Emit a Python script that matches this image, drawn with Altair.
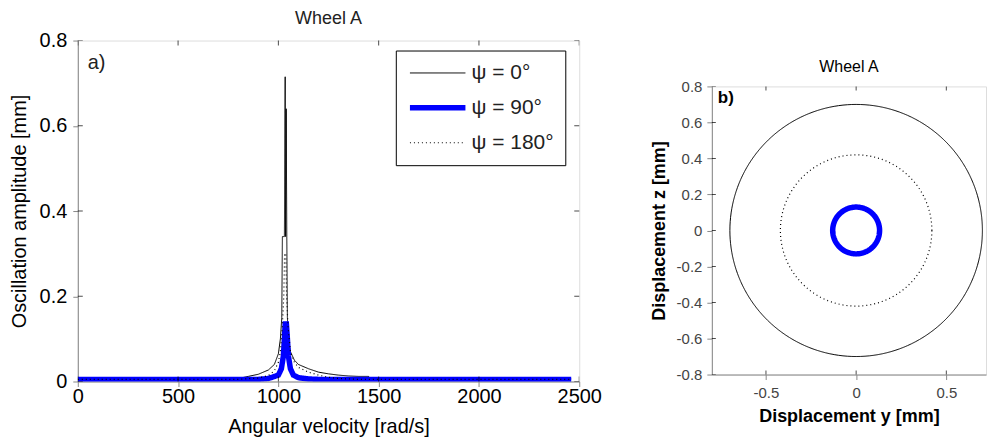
import altair as alt
import pandas as pd
import numpy as np

series = ["ψ = 0°", "ψ = 90°", "ψ = 180°"]

# Panel a) – oscillation amplitude vs angular velocity
omega_0 = [0, 500, 800, 850, 900, 950, 980, 1000, 1010, 1017, 1020, 1030, 1034, 1036, 1039,
           1042, 1045, 1050, 1060, 1080, 1100, 1150, 1200, 1250, 1300, 1350, 1400, 1450, 1455, 2460]
amp_0 = [0.006, 0.006, 0.007, 0.012, 0.017, 0.027, 0.04, 0.065, 0.1, 0.15, 0.34, 0.34, 0.715, 0.34, 0.64,
         0.34, 0.15, 0.1, 0.07, 0.05, 0.04, 0.03, 0.022, 0.018, 0.015, 0.013, 0.012, 0.012, 0.006, 0.006]

omega_90 = [0, 900, 950, 1000, 1015, 1025, 1030, 1034, 1040, 1045, 1050, 1060, 1075, 1100, 1150, 1200, 2460]
amp_90 = [0.005, 0.005, 0.007, 0.015, 0.03, 0.06, 0.1, 0.135, 0.135, 0.1, 0.06, 0.03, 0.015, 0.009, 0.006, 0.005, 0.005]

omega_180 = [0, 800, 900, 950, 980, 1000, 1010, 1020, 1027, 1031, 1037, 1041, 1048, 1060, 1080, 1100,
             1150, 1200, 1250, 1300, 1400, 2460]
amp_180 = [0.005, 0.005, 0.008, 0.014, 0.025, 0.045, 0.07, 0.13, 0.2, 0.3, 0.3, 0.2, 0.13, 0.07, 0.045, 0.033,
           0.022, 0.015, 0.01, 0.007, 0.005, 0.005]

x_ticks_a = [0, 500, 1000, 1500, 2000, 2500]
y_ticks_a = [0, 0.2, 0.4, 0.6, 0.8]

# Panel b) – orbit radii of displacement
orbit_radius = [0.70, 0.13, 0.42]   # psi = 0, 90, 180
x_ticks_b = [-0.5, 0, 0.5]
y_ticks_b = [-0.8, -0.6, -0.4, -0.2, 0, 0.2, 0.4, 0.6, 0.8]

FONT = "Liberation Sans"
TXT = "#222222"

df_a = pd.concat([
    pd.DataFrame({"w": omega_0, "a": amp_0, "s": series[0]}),
    pd.DataFrame({"w": omega_90, "a": amp_90, "s": series[1]}),
    pd.DataFrame({"w": omega_180, "a": amp_180, "s": series[2]}),
])

xs_a = alt.Scale(domain=[0, 2500], nice=False)
ys_a = alt.Scale(domain=[0, 0.8], nice=False)

ax_xa = alt.Axis(values=x_ticks_a, format="d", labelFontSize=20, titleFontSize=20, grid=False,
                 titleFontWeight="normal", labelPadding=0, titlePadding=10, labelOverlap=False,
                 labelFlush=False)
ax_ya = alt.Axis(values=y_ticks_a, labelFontSize=20, titleFontSize=20, titleFontWeight="normal",
                 labelExpr="datum.value == 0 ? '0' : format(datum.value, '.1f')", grid=False,
                 labelPadding=6, titlePadding=10, labelOverlap=False, labelFlush=False)

legend_a = alt.Legend(
    title=None, orient="none", legendX=319, legendY=10, symbolType="stroke", symbolSize=3100,
    clipHeight=23, labelFontSize=21, labelFont=FONT, labelColor=TXT, strokeColor="black",
    fillColor="white", padding=11, rowPadding=12, labelOffset=3, symbolOffset=0,
)

base_a = alt.Chart(df_a).mark_line(clip=True).encode(
    x=alt.X("w:Q", scale=xs_a, title="Angular velocity [rad/s]", axis=ax_xa),
    y=alt.Y("a:Q", scale=ys_a, title="Oscillation amplitude [mm]", axis=ax_ya),
    color=alt.Color("s:N", scale=alt.Scale(domain=series, range=["black", "#0000ff", "black"]),
                    sort=series, legend=legend_a),
    strokeDash=alt.StrokeDash("s:N", scale=alt.Scale(type="ordinal", domain=series,
                                                     range=[[1, 0], [1, 0], [1, 3]]),
                              sort=series, legend=legend_a),
    strokeWidth=alt.StrokeWidth("s:N", scale=alt.Scale(type="ordinal", domain=series, range=[1, 5.5, 1.2]),
                                sort=series, legend=legend_a),
)

lines_a = [base_a.transform_filter(alt.datum.s == s) for s in series]

tx_a = pd.DataFrame({"w": x_ticks_a})
ty_a = pd.DataFrame({"a": y_ticks_a})
tk = dict(clip=True, thickness=1, color="black")
ticks_a = [
    alt.Chart(tx_a).mark_tick(size=10, **tk).encode(
        x=alt.X("w:Q", scale=xs_a, title="Angular velocity [rad/s]", axis=ax_xa), y=alt.value(0)),
    alt.Chart(tx_a).mark_tick(size=10, **tk).encode(
        x=alt.X("w:Q", scale=xs_a, title="Angular velocity [rad/s]", axis=ax_xa), y=alt.value(342)),
    alt.Chart(ty_a).mark_tick(size=10, **tk).encode(
        y=alt.Y("a:Q", scale=ys_a, title="Oscillation amplitude [mm]", axis=ax_ya), x=alt.value(0)),
    alt.Chart(ty_a).mark_tick(size=10, **tk).encode(
        y=alt.Y("a:Q", scale=ys_a, title="Oscillation amplitude [mm]", axis=ax_ya), x=alt.value(503)),
]

label_a = alt.Chart(pd.DataFrame({"t": ["a)"]})).mark_text(
    align="left", baseline="middle", fontSize=20, font=FONT, color=TXT
).encode(x=alt.value(10), y=alt.value(23), text="t:N")

chart_a = alt.layer(*lines_a, *ticks_a, label_a).properties(
    width=503, height=342,
    title=alt.TitleParams("Wheel A", fontSize=18, font=FONT, color=TXT, fontWeight="normal", offset=3),
)

# Panel b
angles = np.linspace(0, 360, 181)
df_b = pd.DataFrame([
    {"s": s, "r": r, "t": t, "k": i}
    for s, r in zip(series, orbit_radius) for i, t in enumerate(angles)
])

xs_b = alt.Scale(domain=[-0.8, 0.72], nice=False)
ys_b = alt.Scale(domain=[-0.8, 0.8], nice=False)

lab_expr = "datum.value == 0 ? '0' : replace(format(datum.value, '.1f'), '\u2212', '-')"
ax_xb = alt.Axis(values=x_ticks_b, labelExpr=lab_expr, labelFontSize=15, titleFontSize=18, grid=False,
                 titleFontWeight="bold", labelPadding=6, titlePadding=7, labelOverlap=False, labelFlush=False,
                 labelColor="#444444", titleColor="black")
ax_yb = alt.Axis(values=y_ticks_b, labelExpr=lab_expr, labelFontSize=15, titleFontSize=18, grid=False,
                 titleFontWeight="bold", labelPadding=5, titlePadding=8, labelOverlap=False, labelFlush=False,
                 labelColor="#444444", titleColor="black")

base_b = alt.Chart(df_b).transform_calculate(
    yy="datum.r * cos(datum.t * PI / 180)",
    zz="datum.r * sin(datum.t * PI / 180)",
).mark_line(clip=True).encode(
    x=alt.X("yy:Q", scale=xs_b, title="Displacement y [mm]", axis=ax_xb),
    y=alt.Y("zz:Q", scale=ys_b, title="Displacement z [mm]", axis=ax_yb),
    order="k:Q",
    color=alt.Color("s:N", scale=alt.Scale(domain=series, range=["black", "#0000ff", "black"]), legend=None),
    strokeDash=alt.StrokeDash("s:N", scale=alt.Scale(type="ordinal", domain=series,
                                                     range=[[1, 0], [1, 0], [1.5, 4]]), legend=None),
    strokeWidth=alt.StrokeWidth("s:N", scale=alt.Scale(type="ordinal", domain=series, range=[1, 4, 1.5]),
                                legend=None),
)
lines_b = [base_b.transform_filter(alt.datum.s == s) for s in series]

tx_b = pd.DataFrame({"yy": x_ticks_b})
ty_b = pd.DataFrame({"zz": y_ticks_b})
ticks_b = [
    alt.Chart(tx_b).mark_tick(size=8, **tk).encode(
        x=alt.X("yy:Q", scale=xs_b, title="Displacement y [mm]", axis=ax_xb), y=alt.value(0)),
    alt.Chart(tx_b).mark_tick(size=8, **tk).encode(
        x=alt.X("yy:Q", scale=xs_b, title="Displacement y [mm]", axis=ax_xb), y=alt.value(289)),
    alt.Chart(ty_b).mark_tick(size=8, **tk).encode(
        y=alt.Y("zz:Q", scale=ys_b, title="Displacement z [mm]", axis=ax_yb), x=alt.value(0)),
]

label_b = alt.Chart(pd.DataFrame({"t": ["b)"]})).mark_text(
    align="left", baseline="middle", fontSize=17, font=FONT, fontWeight="bold", color="black"
).encode(x=alt.value(6), y=alt.value(12), text="t:N")

chart_b = alt.layer(*lines_b, *ticks_b, label_b).properties(
    width=275, height=289,
    title=alt.TitleParams("Wheel A", fontSize=16, font=FONT, color="black", fontWeight="normal", offset=4),
)

spacer = alt.Chart(pd.DataFrame({"v": [0]})).mark_point(opacity=0).encode(
    x=alt.value(0), y=alt.value(0)
).properties(width=275, height=18, view=alt.ViewBackground(strokeOpacity=0))

right = alt.vconcat(spacer, chart_b, spacing=0)

chart = alt.hconcat(chart_a, right, spacing=47).configure_view(
    stroke="black", strokeWidth=1
).configure_axis(
    grid=False, domain=False, ticks=False, tickSize=0, labelFont=FONT, titleFont=FONT,
    labelColor=TXT, titleColor=TXT,
).configure(padding=0)

chart.save("out.html", embed_options={"renderer": "svg", "actions": False})
